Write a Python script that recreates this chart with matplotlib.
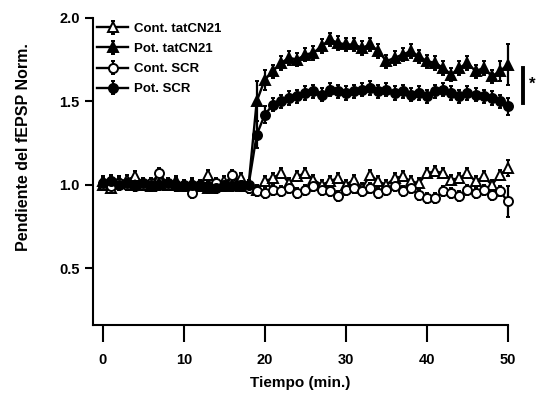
import numpy as np
import matplotlib
matplotlib.use('Agg')
import matplotlib.pyplot as plt

plt.rcParams['font.family'] = ['Liberation Sans', 'DejaVu Sans']
plt.rcParams['font.weight'] = 'bold'

# tiempo (min), un punto por minuto
tiempo = np.arange(0, 51)

cont_tat = [1.00, 0.98, 1.02, 1.03, 1.05, 1.01, 0.99, 1.04, 1.00, 1.02,
            0.99, 1.01, 1.00, 1.06, 1.00, 1.02, 1.03, 1.04, 0.99,
            0.97, 1.02, 1.04, 1.07, 1.01, 1.05, 1.07, 1.03, 1.00, 1.02,
            1.04, 1.00, 1.03, 0.98, 1.06, 1.02, 1.00, 1.04, 1.05, 1.02,
            1.01, 1.07, 1.08, 1.07, 1.03, 1.04, 1.07, 1.02, 1.05, 1.00,
            1.06, 1.10]
cont_tat_err = [0.03] * 19 + [0.03] * 31 + [0.05]

pot_tat = [1.02, 1.03, 1.02, 1.01, 1.00, 1.01, 1.00, 1.01, 1.00, 1.01,
           1.00, 1.00, 0.99, 0.98, 0.99, 0.99, 1.00, 0.99, 1.00,
           1.50, 1.63, 1.68, 1.73, 1.76, 1.75, 1.78, 1.79, 1.83, 1.87,
           1.85, 1.84, 1.84, 1.82, 1.84, 1.80, 1.74, 1.76, 1.78, 1.80,
           1.77, 1.74, 1.73, 1.70, 1.66, 1.70, 1.73, 1.68, 1.70, 1.65,
           1.68, 1.72]
pot_tat_err = [0.03] * 19 + [0.12, 0.06] + [0.04] * 28 + [0.06, 0.12]

cont_scr = [1.00, 0.99, 1.01, 1.00, 0.99, 1.00, 1.01, 1.07, 1.00, 0.99,
            1.00, 0.95, 1.00, 0.99, 1.01, 1.00, 1.06, 1.00, 0.98,
            0.96, 0.95, 0.97, 0.96, 0.98, 0.95, 0.97, 0.99, 0.97, 0.96,
            0.93, 0.97, 0.98, 0.96, 0.98, 0.95, 0.97, 0.99, 0.96, 0.98,
            0.94, 0.92, 0.92, 0.96, 0.95, 0.93, 0.97, 0.95, 0.97, 0.94,
            0.96, 0.90]
cont_scr_err = [0.03] * 19 + [0.03] * 31 + [0.09]

pot_scr = [1.01, 1.02, 1.00, 1.01, 1.00, 1.01, 1.00, 1.00, 1.01, 1.00,
           0.99, 1.00, 1.00, 0.99, 0.98, 0.99, 0.99, 1.00, 1.00,
           1.30, 1.42, 1.48, 1.50, 1.52, 1.53, 1.55, 1.56, 1.54, 1.57,
           1.56, 1.55, 1.56, 1.57, 1.58, 1.56, 1.57, 1.55, 1.56, 1.54,
           1.55, 1.53, 1.56, 1.57, 1.55, 1.53, 1.55, 1.54, 1.53, 1.52,
           1.50, 1.47]
pot_scr_err = [0.03] * 19 + [0.08, 0.05] + [0.04] * 29 + [0.05]

series = [
    ('Cont. tatCN21', cont_tat, cont_tat_err, '^', 'white'),
    ('Pot. tatCN21', pot_tat, pot_tat_err, '^', 'black'),
    ('Cont. SCR', cont_scr, cont_scr_err, 'o', 'white'),
    ('Pot. SCR', pot_scr, pot_scr_err, 'o', 'black'),
]

fig = plt.figure(figsize=(5.39, 3.95), dpi=100)
ax = fig.add_axes([0.1725, 0.177, 0.77, 0.778])

for nombre, y, err, m, fc in series:
    ax.errorbar(tiempo, y, yerr=err, color='black', marker=m, markersize=6.5,
                markerfacecolor=fc, markeredgecolor='black', markeredgewidth=1.4,
                linewidth=1.7, elinewidth=1.6, capsize=1.5, label=nombre,
                clip_on=False)

# marca de significancia
ax.plot([51.8, 51.8], [1.49, 1.70], color='black', linewidth=2.8, clip_on=False)
ax.text(52.6, 1.60, '*', fontsize=12, fontweight='bold', va='center', clip_on=False)

ax.set_xlim(-1.2, 50)
ax.set_ylim(0.16, 2.0)
ax.set_xticks([0, 10, 20, 30, 40, 50])
ax.set_yticks([0.5, 1.0, 1.5, 2.0])
ax.tick_params(labelsize=10.5, width=1.5, length=6)
ax.tick_params(axis='x', length=12, pad=8)
ax.spines['top'].set_visible(False)
ax.spines['right'].set_visible(False)
ax.spines['left'].set_linewidth(1.5)
ax.spines['bottom'].set_linewidth(1.5)
ax.set_xlabel('Tiempo (min.)', fontsize=11, fontweight='bold')
ax.xaxis.set_label_coords(0.5, -0.165)
ax.set_ylabel('Pendiente del fEPSP Norm.', fontsize=11.5, fontweight='bold')
ax.yaxis.set_label_coords(-0.15, 0.58)

handles, labels = ax.get_legend_handles_labels()
leg = ax.legend(handles, labels, loc='upper left', frameon=False, fontsize=9.5,
                handlelength=2.4, handletextpad=0.4, labelspacing=0.6,
                bbox_to_anchor=(-0.01, 1.01), borderaxespad=0.2)
for t in leg.get_texts():
    t.set_fontweight('bold')

fig.savefig('out.png', dpi=100)
